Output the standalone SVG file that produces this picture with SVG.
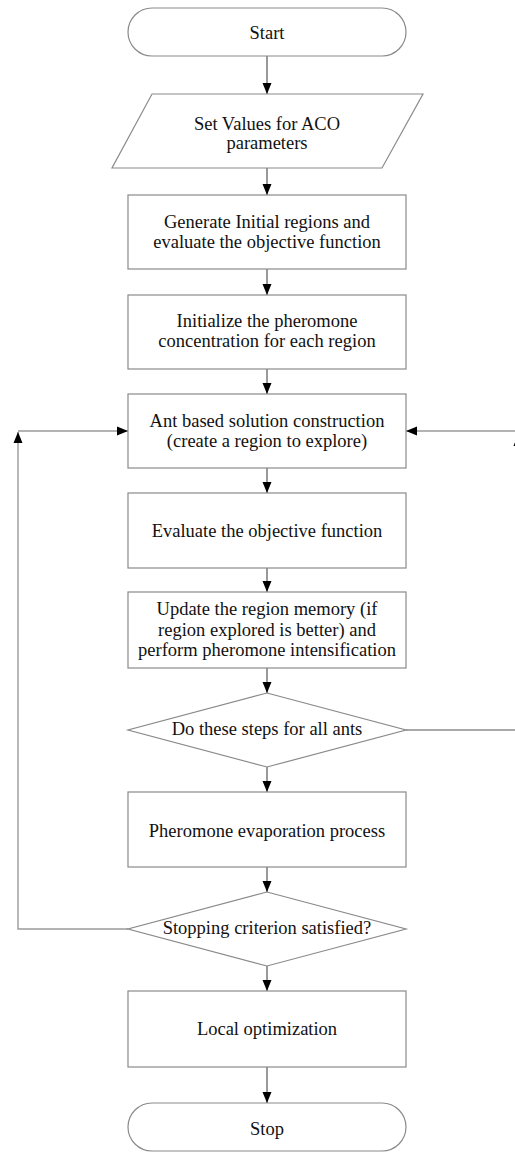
<svg xmlns="http://www.w3.org/2000/svg" width="515" height="1152" viewBox="0 0 515 1152">
<style>
.shape{fill:#fff;stroke:#8a8a8a;stroke-width:1.2}
.lbl{font-family:"Liberation Serif","Times New Roman",serif;font-size:18.5px;fill:#111;text-anchor:middle}
.conn{fill:none;stroke:#555;stroke-width:1.2}
.loop{fill:none;stroke:#9a9a9a;stroke-width:1.4}
</style>
<defs>
<marker id="ah" markerUnits="userSpaceOnUse" markerWidth="11" markerHeight="10" refX="11" refY="5" orient="auto">
<path d="M0,0.5 L11,5 L0,9.5 z" fill="#000"/>
</marker>
</defs>
<rect width="515" height="1152" fill="#fff"/>
<g id="connectors">
<line class="conn" x1="267" y1="56" x2="267" y2="94" marker-end="url(#ah)"/>
<line class="conn" x1="267" y1="168" x2="267" y2="195" marker-end="url(#ah)"/>
<line class="conn" x1="267" y1="269" x2="267" y2="295" marker-end="url(#ah)"/>
<line class="conn" x1="267" y1="369" x2="267" y2="394" marker-end="url(#ah)"/>
<line class="conn" x1="267" y1="468" x2="267" y2="493" marker-end="url(#ah)"/>
<line class="conn" x1="267" y1="568" x2="267" y2="592" marker-end="url(#ah)"/>
<line class="conn" x1="267" y1="668" x2="267" y2="693" marker-end="url(#ah)"/>
<line class="conn" x1="267" y1="767" x2="267" y2="792" marker-end="url(#ah)"/>
<line class="conn" x1="267" y1="867" x2="267" y2="892" marker-end="url(#ah)"/>
<line class="conn" x1="267" y1="966" x2="267" y2="991" marker-end="url(#ah)"/>
<line class="conn" x1="267" y1="1067" x2="267" y2="1103" marker-end="url(#ah)"/>
<polyline class="loop" points="128,929 18,929 18,432" marker-end="url(#ah)"/>
<line class="loop" x1="18" y1="431" x2="128" y2="431" marker-end="url(#ah)"/>
<polyline class="conn" points="406,730 518,730 518,435" marker-end="url(#ah)"/>
<line class="loop" x1="515" y1="431" x2="406" y2="431" marker-end="url(#ah)"/>
</g>
<g id="start">
<rect class="shape" x="128" y="8" width="278" height="48" rx="24" ry="24"/>
<text class="lbl" x="267" y="38.5">Start</text>
</g>
<g id="set-values">
<polygon class="shape" points="152,94 423,94 382,168 112,168"/>
<text class="lbl" x="267" y="130">Set Values for ACO</text>
<text class="lbl" x="267" y="149">parameters</text>
</g>
<g id="generate">
<rect class="shape" x="128" y="195" width="278" height="74"/>
<text class="lbl" x="267" y="227.5">Generate Initial regions and</text>
<text class="lbl" x="267" y="247.5">evaluate the objective function</text>
</g>
<g id="initialize">
<rect class="shape" x="128" y="295" width="278" height="74"/>
<text class="lbl" x="267" y="327">Initialize the pheromone</text>
<text class="lbl" x="267" y="347">concentration for each region</text>
</g>
<g id="ant-construction">
<rect class="shape" x="128" y="394" width="278" height="74"/>
<text class="lbl" x="267" y="427">Ant based solution construction</text>
<text class="lbl" x="267" y="447">(create a region to explore)</text>
</g>
<g id="evaluate">
<rect class="shape" x="128" y="493" width="278" height="75"/>
<text class="lbl" x="267" y="537">Evaluate the objective function</text>
</g>
<g id="update">
<rect class="shape" x="128" y="592" width="278" height="76"/>
<text class="lbl" x="267" y="615">Update the region memory (if</text>
<text class="lbl" x="267" y="635.5">region explored is better) and</text>
<text class="lbl" x="267" y="656">perform pheromone intensification</text>
</g>
<g id="all-ants">
<polygon class="shape" points="267,693 406,730 267,767 128,730"/>
<text class="lbl" x="267" y="735">Do these steps for all ants</text>
</g>
<g id="evaporation">
<rect class="shape" x="128" y="792" width="278" height="75"/>
<text class="lbl" x="267" y="837">Pheromone evaporation process</text>
</g>
<g id="stopping">
<polygon class="shape" points="267,892 406,929 267,966 128,929"/>
<text class="lbl" x="267" y="934">Stopping criterion satisfied?</text>
</g>
<g id="local-opt">
<rect class="shape" x="128" y="991" width="278" height="76"/>
<text class="lbl" x="267" y="1035">Local optimization</text>
</g>
<g id="stop">
<rect class="shape" x="128" y="1103" width="278" height="48" rx="24" ry="24"/>
<text class="lbl" x="267" y="1135">Stop</text>
</g>
</svg>
